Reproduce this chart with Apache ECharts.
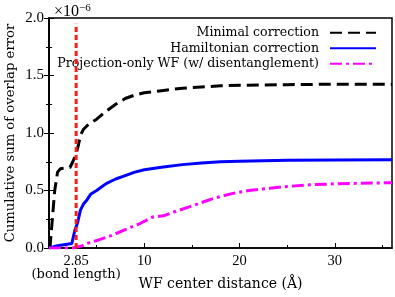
<!DOCTYPE html>
<html><head><meta charset="utf-8">
<script src="https://cdn.jsdelivr.net/npm/echarts@6/dist/echarts.min.js"></script>
<style>html,body{margin:0;padding:0;background:#fff}#c{width:395px;height:297px}</style>
</head><body><div id="c"></div>
<script>
// Cumulative sum of overlap error (units of 1e-6) vs WF center distance (Å)
const minimalX = [0.1,0.3,0.6,0.9,1.2,2.2,2.5,2.85,3.1,3.3,3.6,4.2,5,6,7,8,9,10,12,14,16,18,20,25,30,36];
const minimalY = [0,0.2,0.5,0.66,0.69,0.70,0.75,0.82,0.9,0.98,1.03,1.08,1.12,1.19,1.25,1.30,1.33,1.35,1.37,1.39,1.40,1.41,1.415,1.42,1.425,1.425];
const hamX = [0,0.9,1.0,2.4,2.7,3.0,3.3,3.6,4.0,4.4,5,5.5,6,7,8,9,10,12,14,16,18,20,25,30,36];
const hamY = [0,0.02,0.03,0.04,0.15,0.22,0.33,0.38,0.42,0.47,0.50,0.53,0.56,0.60,0.63,0.66,0.68,0.705,0.725,0.74,0.75,0.755,0.762,0.765,0.768];
const projX = [0,2.5,3,3.5,4,5.2,6.6,8,9.6,10.9,12,13,14.8,17.2,19.3,21,23.2,25,27.4,30,32.6,36];
const projY = [0,0,0.01,0.02,0.04,0.07,0.11,0.16,0.215,0.27,0.28,0.31,0.36,0.43,0.475,0.50,0.52,0.535,0.55,0.558,0.563,0.568];
const bondX = [2.85,2.85];
const bondY = [0,1.95];
const xLabelValues = [2.85,10,20,30];
const xMajorTicks = [10,20,30];
const xMinorTicks = [5,15,25,35];
const seriesNames = ['Minimal correction','Hamiltonian correction','Projection-only WF (w/ disentanglement)'];

const zip = (xs, ys) => xs.map((x, i) => [x, ys[i]]);
const NUM = 'Liberation Serif';
const TXT = 'DejaVu Serif';
const chart = echarts.init(document.getElementById('c'));
chart.setOption({
  animation: false,
  textStyle: {fontFamily: NUM, color: '#000'},
  title: {
    text: '×10{s|−6}', left: 49, top: -2,
    textStyle: {fontFamily: NUM, fontSize: 16, fontWeight: 'normal', color: '#000',
      rich: {s: {fontFamily: NUM, fontSize: 11, verticalAlign: 'top', padding: [0,0,6,0]}}}
  },
  grid: {left: 49, right: 3, top: 18, bottom: 49, outerBoundsMode: 'none', containLabel: false,
    show: true, borderColor: '#000', borderWidth: 1.5, backgroundColor: 'transparent'},
  legend: {
    orient: 'vertical', right: 13, top: 21, align: 'right', itemWidth: 46, itemHeight: 10, itemGap: 2,
    data: seriesNames,
    itemStyle: {opacity: 0},
    textStyle: {fontFamily: TXT, fontSize: 12.6, color: '#000', lineHeight: 13.5, padding: [0, 6, 0, 0]}
  },
  xAxis: [{
    type: 'value', min: 0, max: 36, interval: 10,
    name: 'WF center distance (Å)', nameLocation: 'middle', nameGap: 29, nameMoveOverlap: false,
    nameTextStyle: {fontFamily: TXT, fontSize: 14, color: '#000'},
    axisLine: {show: true, lineStyle: {color: '#000', width: 1.5}},
    axisTick: {show: true, inside: true, length: 5, customValues: xMajorTicks, lineStyle: {color: '#000', width: 1}},
    axisLabel: {customValues: xLabelValues, fontFamily: NUM, fontSize: 14.5, color: '#000', margin: 7,
      rich: {a: {fontFamily: NUM, fontSize: 14.5, lineHeight: 13}, b: {fontFamily: TXT, fontSize: 13, lineHeight: 14}},
      formatter: v => (Math.abs(v - 2.85) < 1e-9 ? '{a|2.85}\n{b|(bond length)}' : '{a|' + v + '}')},
    splitLine: {show: false}
  }, {
    type: 'value', min: 0, max: 36, position: 'bottom',
    axisLine: {show: false},
    axisTick: {show: true, inside: true, length: 3, customValues: xMinorTicks, lineStyle: {color: '#000', width: 1}},
    axisLabel: {show: false}, splitLine: {show: false}
  }],
  yAxis: [{
    type: 'value', min: 0, max: 2, interval: 0.5,
    name: 'Cumulative sum of overlap error', nameLocation: 'middle', nameGap: 32, nameMoveOverlap: false,
    nameTextStyle: {fontFamily: TXT, fontSize: 13.2, color: '#000'},
    axisLine: {show: true, lineStyle: {color: '#000', width: 1.5}},
    axisTick: {show: true, inside: true, length: 5, lineStyle: {color: '#000', width: 1}},
    minorTick: {show: true, splitNumber: 2, length: 3, lineStyle: {color: '#000', width: 1}},
    axisLabel: {fontFamily: NUM, fontSize: 15, color: '#000', margin: 5, formatter: v => v.toFixed(1)},
    splitLine: {show: false}
  }, {
    type: 'value', min: 0, max: 2, interval: 0.5, position: 'right',
    axisLine: {show: true, lineStyle: {color: '#000', width: 1.5}},
    axisTick: {show: true, inside: true, length: 5, lineStyle: {color: '#000', width: 1}},
    minorTick: {show: true, splitNumber: 2, length: 3, lineStyle: {color: '#000', width: 1}},
    axisLabel: {show: false}, splitLine: {show: false}
  }],
  series: [
    {name: seriesNames[0], type: 'line', data: zip(minimalX, minimalY), symbol: 'none', color: '#000',
     lineStyle: {color: '#000', width: 3, type: [12, 6]}},
    {name: seriesNames[1], type: 'line', data: zip(hamX, hamY), symbol: 'none', color: '#0000ff',
     lineStyle: {color: '#0000ff', width: 3}},
    {name: seriesNames[2], type: 'line', data: zip(projX, projY), symbol: 'none', color: '#ff00ff',
     lineStyle: {color: '#ff00ff', width: 3, type: [12, 4, 3, 4]}},
    {name: 'bond', type: 'line', data: zip(bondX, bondY), symbol: 'none', color: '#ff1a1a',
     lineStyle: {color: '#ff1a1a', width: 3, type: [5, 3]}, z: 5}
  ]
});
</script></body></html>
